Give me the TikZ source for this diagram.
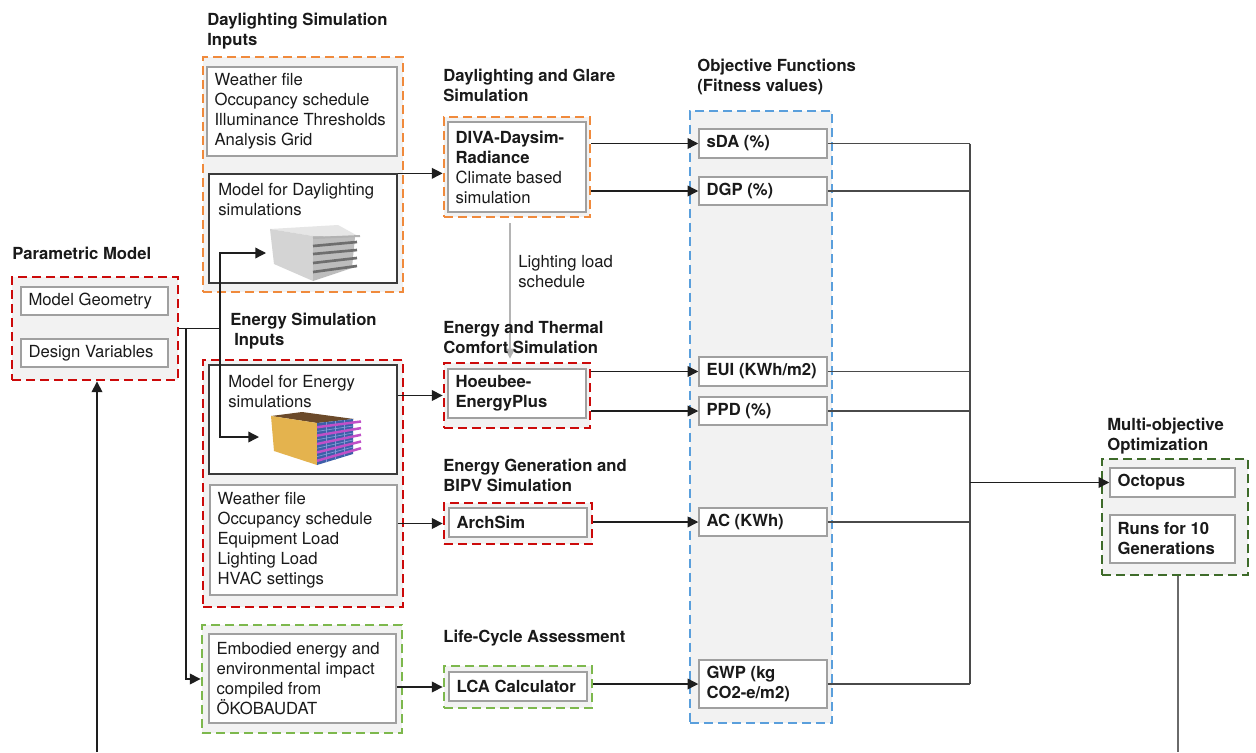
\documentclass[tikz,border=0pt]{standalone}
\usepackage{fontspec}
\setmainfont{TeX Gyre Heros}
\usetikzlibrary{arrows.meta}

\definecolor{ink}{HTML}{1A1A1A}
\definecolor{panelgray}{HTML}{F2F2F2}
\definecolor{boxline}{HTML}{A0A0A0}
\definecolor{modelline}{HTML}{3A3A3A}
\definecolor{conn}{HTML}{1E1E1E}
\definecolor{busline}{HTML}{4A4A4A}
\definecolor{loopline}{HTML}{6A6A6A}
\definecolor{orangeD}{HTML}{F08A3C}
\definecolor{redD}{HTML}{CC0A0A}
\definecolor{greenL}{HTML}{7DB84D}
\definecolor{greenD}{HTML}{3E6B2A}
\definecolor{blueD}{HTML}{5A9FDC}
\definecolor{loadgray}{HTML}{B4B4B4}
\definecolor{massL}{HTML}{D4D4D4}
\definecolor{massR}{HTML}{BDBDBD}
\definecolor{massT}{HTML}{E6E6E6}
\definecolor{louver}{HTML}{6E6E6E}
\definecolor{wallY}{HTML}{E4B34E}
\definecolor{roofB}{HTML}{6B4A2A}
\definecolor{glazB}{HTML}{3D5FA8}
\definecolor{gridB}{HTML}{7E9BD6}
\definecolor{finM}{HTML}{C050C8}

% rectangular node given by its corners (in px units)
\newcommand\boxnode[6]{%
  \pgfmathsetlengthmacro\pbw{(#5-#3)*0.6pt}%
  \pgfmathsetlengthmacro\pbh{(#6-#4)*0.6pt}%
  \node[#1, minimum width=\pbw, minimum height=\pbh] (#2) at ({(#3+#5)/2},{(#4+#6)/2}) {};}
% box with left-aligned, vertically centred text
\newcommand\textbox[7]{%
  \boxnode{#1}{#2}{#3}{#4}{#5}{#6}%
  \node[boxtext] (#2-text) at ([xshift=4.8pt]#2.west) {#7};}

\tikzset{
  every node/.style={font=\fontsize{10pt}{12pt}\selectfont, text=ink},
  panel frame/.style={fill=panelgray, line width=1.7pt, dash pattern=on 5.4pt off 3pt, inner sep=0pt},
  orange panel/.style={panel frame, draw=orangeD},
  red panel/.style={panel frame, draw=redD},
  green panel/.style={panel frame, draw=greenL},
  dark panel/.style={panel frame, draw=greenD},
  blue panel/.style={panel frame, draw=blueD},
  inner/.style={draw=boxline, fill=white, line width=0.9pt, inner sep=0pt},
  model/.style={draw=modelline, fill=white, line width=0.8pt, inner sep=0pt},
  boxtext/.style={anchor=west, align=left, inner sep=0pt},
  heading/.style={anchor=north west, align=left, inner sep=0pt,
    font=\fontsize{10pt}{12pt}\selectfont\bfseries},
  note/.style={anchor=north west, align=left, inner sep=0pt},
  arr/.style={draw=conn, line width=0.8pt, -{Triangle[length=6.4pt,width=6.4pt]}},
  bus/.style={draw=busline, line width=0.8pt},
  feed/.style={draw=loadgray, line width=0.9pt, -{Triangle[length=6pt,width=6pt]}},
}

\begin{document}
\begin{tikzpicture}[x=0.6pt,y=-0.6pt]
\useasboundingbox (0,0) rectangle (1256,752);

% ---------- group panels ----------
\boxnode{orange panel}{dlin}{203}{57}{403}{292}
\boxnode{red panel}{par}{12}{277}{178}{380}
\boxnode{red panel}{enin}{203}{360}{403}{607}
\boxnode{green panel}{lcain}{202}{625}{402}{733}
\boxnode{orange panel}{divaout}{444}{117}{590}{217}
\boxnode{red panel}{hoeout}{444}{363}{590}{428}
\boxnode{red panel}{archout}{444}{503}{592}{544}
\boxnode{green panel}{lcaout}{444}{666}{592}{708}
\boxnode{blue panel}{obj}{690}{111}{832}{723}
\boxnode{dark panel}{moo}{1102}{459}{1248}{575}

% ---------- inputs ----------
\textbox{inner}{dlw}{207}{67}{397}{156}{Weather file\\Occupancy schedule\\Illuminance Thresholds\\Analysis Grid}
\boxnode{model}{dlm}{209}{174}{397}{283}
\node[note] (dlm-text) at (218,183) {Model for Daylighting\\simulations};

\textbox{inner}{geo}{21}{287}{168}{315}{Model Geometry}
\textbox{inner}{dvar}{21}{339}{168}{367}{Design Variables}

\boxnode{model}{enm}{209}{365}{397}{474}
\node[note] (enm-text) at (228,375) {Model for Energy\\simulations};
\textbox{inner}{enw}{210}{485}{397}{595}{Weather file\\Occupancy schedule\\Equipment Load\\Lighting Load\\HVAC settings}
\textbox{inner}{emb}{209}{634}{396}{723}{Embodied energy and\\environmental impact\\compiled from\\ÖKOBAUDAT}

% ---------- simulation engines ----------
\textbox{inner}{diva}{448}{122}{586}{212}{\textbf{DIVA-Daysim-}\\\textbf{Radiance}\\Climate based\\simulation}
\textbox{inner}{hoe}{448}{369}{586}{418}{\bfseries Hoeubee-\\\bfseries EnergyPlus}
\textbox{inner}{arch}{449}{508}{587}{537}{\bfseries ArchSim}
\textbox{inner}{lca}{449}{672}{587}{701}{\bfseries LCA Calculator}

% ---------- objectives ----------
\textbox{inner}{sda}{699}{129}{827}{158}{\bfseries sDA (\%)}
\textbox{inner}{dgp}{699}{177}{827}{205}{\bfseries DGP (\%)}
\textbox{inner}{eui}{699}{357}{827}{386}{\bfseries EUI (KWh/m2)}
\textbox{inner}{ppd}{699}{397}{827}{425}{\bfseries PPD (\%)}
\textbox{inner}{ac}{699}{508}{827}{536}{\bfseries AC (KWh)}
\textbox{inner}{gwp}{699}{660}{827}{708}{\bfseries GWP (kg\\\bfseries CO2-e/m2)}

% ---------- optimisation ----------
\textbox{inner}{oct}{1110}{468}{1235}{497}{\bfseries Octopus}
\textbox{inner}{runs}{1110}{515}{1235}{563}{\bfseries Runs for 10\\\bfseries Generations}

% ---------- daylighting massing (grey, louvres) ----------
\fill[massT] (270,229) -- (338,225) -- (358,236) -- (313,236) -- cycle;
\fill[massL] (270,229) -- (313,236) -- (313,281) -- (274,264) -- cycle;
\fill[massR] (313,236) -- (355,237) -- (352,268) -- (313,281) -- cycle;
\draw[gray!60, line width=1.2pt] (313,238) -- (360,236);
\foreach \ya/\yb in {246/242, 254/250, 263/258, 272/266}
  \draw[louver, line width=1.6pt] (313,\ya) -- (357,\yb);

% ---------- energy massing (walls, glazing, fins) ----------
\fill[roofB] (271,416) -- (302,412) -- (354,419) -- (317,423) -- cycle;
\fill[wallY] (271,416) -- (317,423) -- (317,465) -- (274,451) -- cycle;
\fill[glazB] (317,423) -- (353,419) -- (353,454) -- (317,465) -- cycle;
\foreach \x/\ya/\yb in {326/422/462.2, 335/421/459.5, 344/420/456.7}
  \draw[gridB, line width=0.4pt] (\x,\ya) -- (\x,\yb);
\foreach \ya/\yb in {431.4/426, 439.8/433, 448.2/440, 456.6/447}
  \draw[gridB, line width=0.4pt] (317,\ya) -- (353,\yb);
\foreach \ya/\yb in {427.2/421.5, 435.6/428.1, 444/434.8, 452.4/441.5, 460.8/448.2}
  \draw[finM, line width=1.5pt] (317,\ya) -- (361,\yb);

% ---------- connectors ----------
\coordinate (jA) at (220,0);
\coordinate (jB) at (186,0);
\coordinate (dlimg) at (266,253);
\coordinate (enimg) at (259,437);
\coordinate (bus) at (970,482);
\coordinate (loopL) at (97,752);
\coordinate (loopR) at (1178,752);

\draw[arr] (par.east) -- (par.east -| jA) |- (dlimg);
\draw[arr] (par.east -| jA) |- (enimg);
\draw[arr] (par.east -| jB) |- (lcain.west);

\draw[arr] (dlm.north east) -- (dlm.north east -| divaout.west);
\draw[arr] (hoeout.west -| enm.east) -- (hoeout.west);
\draw[arr] (archout.west -| enw.east) -- (archout.west);
\draw[arr] (lcaout.west -| emb.east) -- (lcaout.west);

\draw[arr] (divaout.east |- sda.west) -- (sda.west);
\draw[arr] (divaout.east |- dgp.west) -- (dgp.west);
\draw[arr] (hoeout.east |- eui.west) -- (eui.west);
\draw[arr] (hoeout.east |- ppd.west) -- (ppd.west);
\draw[arr] (archout.east |- ac.west) -- (ac.west);
\draw[arr] (lcaout.east |- gwp.west) -- (gwp.west);

\foreach \n in {sda,dgp,eui,ppd,ac,gwp}
  \draw[bus] (\n.east) -- (\n.east -| bus);
\draw[bus] (sda.east -| bus) -- (gwp.east -| bus);
\draw[arr] (oct.west -| bus) -- (oct.west);

\draw[feed] ([xshift=-4.2pt,yshift=-3pt]divaout.south) -- ([xshift=-4.2pt,yshift=1.8pt]hoeout.north);

\draw[draw=loopline, line width=0.8pt] (moo.south -| loopR) -- (loopR);
\draw[arr] (loopL) -- (loopL |- par.south);

% ---------- headings ----------
\node[heading] (h-dl) at (207,13) {Daylighting Simulation\\Inputs};
\node[heading] (h-pm) at (12,247) {Parametric Model};
\node[heading] (h-es) at (230,313) {Energy Simulation\\\hspace*{2.4pt}Inputs};
\node[heading] (h-dg) at (443,69) {Daylighting and Glare\\Simulation};
\node[heading] (h-of) at (697,59) {Objective Functions\\(Fitness values)};
\node[heading] (h-et) at (443,321) {Energy and Thermal\\Comfort Simulation};
\node[heading] (h-eg) at (443,459) {Energy Generation and\\BIPV Simulation};
\node[heading] (h-lc) at (443,630) {Life-Cycle Assessment};
\node[heading] (h-mo) at (1107,418) {Multi-objective\\Optimization};
\node[note] (ll-text) at (518,255) {Lighting load\\schedule};
\end{tikzpicture}
\end{document}
